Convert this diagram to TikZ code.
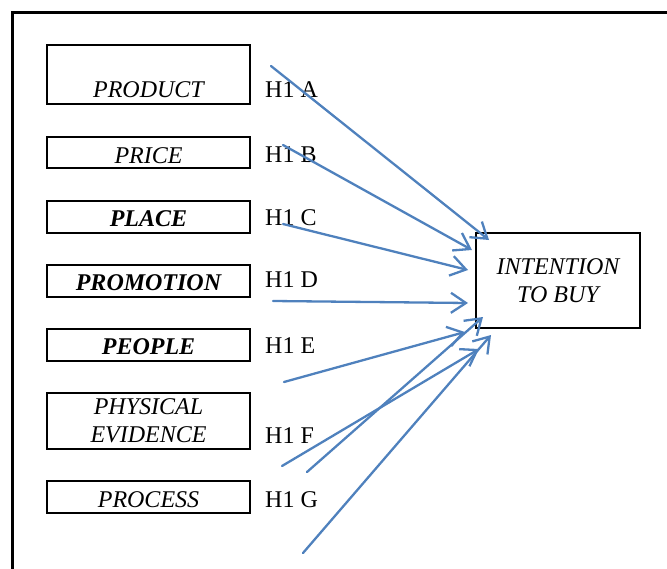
\documentclass[tikz,border=0pt]{standalone}
\usepackage{fontspec}
\setmainfont{Liberation Serif}
\usetikzlibrary{arrows.meta}
\definecolor{arrowblue}{RGB}{79,129,189}
\begin{document}
\begin{tikzpicture}[x=1pt,y=-1pt,
  every node/.style={font=\fontsize{24}{28}\selectfont},
  srcbox/.style={draw=black,line width=2pt,minimum width=203pt,inner sep=0pt,font=\fontsize{24}{28}\selectfont\itshape,text depth=0pt,text height=19pt},
  boldbox/.style={srcbox,font=\fontsize{24}{28}\selectfont\bfseries\itshape},
  hlabel/.style={anchor=base west,inner sep=0pt},
  conn/.style={draw=arrowblue,line width=2.3pt,line cap=round,-{Straight Barb[length=15pt,width=20pt,line width=2.3pt]}}]
\useasboundingbox (0,0) rectangle (667,568);
\clip (0,0) rectangle (667,568);
\draw[line width=3pt] (12,700) -- (12,12) -- (800,12);

\node[srcbox,minimum height=59pt,text height=45pt] (product) at (148.5,74.5) {PRODUCT};
\node[srcbox,minimum height=31pt,text height=21pt] (price) at (148.5,152.5) {PRICE};
\node[boldbox,minimum height=32pt,text height=18pt] (place) at (148.5,217) {PLACE};
\node[boldbox,minimum height=32pt,text height=18pt] (promotion) at (148.5,281) {PROMOTION};
\node[boldbox,minimum height=32pt,text height=18pt] (people) at (148.5,345) {PEOPLE};
\node[srcbox,minimum height=56pt,text height=43.5pt,align=center] (physical) at (148.5,421) {PHYSICAL\\EVIDENCE};
\node[srcbox,minimum height=32pt,text height=20pt] (process) at (148.5,497) {PROCESS};

\node[draw=black,line width=2.5pt,minimum width=164pt,minimum height=95pt,inner sep=0pt,align=center,
  text height=43.5pt,text depth=0pt,
  font=\fontsize{24}{28}\selectfont\itshape] (intent) at (558,280.5) {INTENTION\\TO BUY};

\node[hlabel] (ha) at (265,97) {H1 A};
\node[hlabel] (hb) at (265,162) {H1 B};
\node[hlabel] (hc) at (265,225) {H1 C};
\node[hlabel] (hd) at (265,287) {H1 D};
\node[hlabel] (he) at (265,353) {H1 E};
\node[hlabel] (hf) at (265,443) {H1 F};
\node[hlabel] (hg) at (265,507) {H1 G};

\coordinate (sa) at (271,66);   \coordinate (ea) at (489,240);
\coordinate (sb) at (283,145);  \coordinate (eb) at (472,250);
\coordinate (sc) at (283,224);  \coordinate (ec) at (468,270);
\coordinate (sd) at (273,301);  \coordinate (ed) at (468,303);
\coordinate (se) at (284,382);  \coordinate (ee) at (465,332);
\coordinate (sf1) at (282,466); \coordinate (ef1) at (479,349);
\coordinate (sf2) at (307,472); \coordinate (ef2) at (483,317);
\coordinate (sg) at (303,553);  \coordinate (eg) at (491,335);

\draw[conn] (sa) -- (ea);
\draw[conn] (sb) -- (eb);
\draw[conn] (sc) -- (ec);
\draw[conn] (sd) -- (ed);
\draw[conn] (se) -- (ee);
\draw[conn] (sf1) -- (ef1);
\draw[conn] (sf2) -- (ef2);
\draw[conn] (sg) -- (eg);
\end{tikzpicture}
\end{document}
